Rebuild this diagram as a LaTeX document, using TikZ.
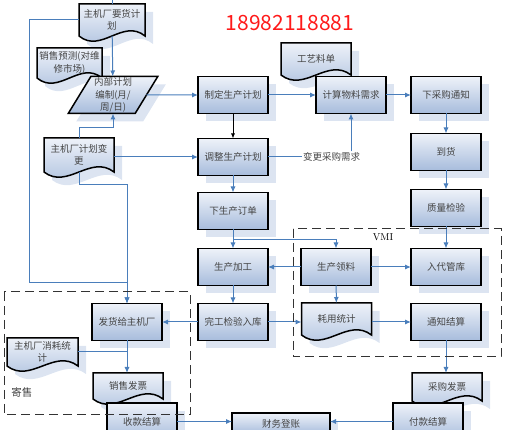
\documentclass[tikz,border=0pt]{standalone}
\usepackage{fontspec}
\newfontfamily\cjk{Noto Sans CJK SC}
\usetikzlibrary{arrows.meta,positioning,shapes.geometric,shadows}
\usepackage{xcolor}
\definecolor{ink}{HTML}{444444}
\definecolor{boxtop}{HTML}{EEF2F9}
\definecolor{boxbot}{HTML}{A7BCDC}
\definecolor{ghost}{HTML}{DCE4F1}
\definecolor{wire}{HTML}{4A7EBB}
\definecolor{hotred}{HTML}{FF1A1A}
\newcommand{\docwave}{18}
\tikzset{
  shadowed/.style={drop shadow={shadow xshift=8pt,shadow yshift=-8pt,fill=ghost,opacity=1}},
  box/.style={draw=black,line width=1.5pt,top color=boxtop,bottom color=boxbot,shadowed,minimum width=70,minimum height=37,inner sep=1pt,outer sep=0pt,align=center,text=ink,font=\cjk\fontsize{9.5}{12.5}\selectfont},
  para/.style={box,trapezium,trapezium left angle=61,trapezium right angle=119,trapezium stretches=true,minimum width=90},
  docshape/.style={draw=black,line width=1.5pt,top color=boxtop,bottom color=boxbot,shadowed},
  doc/.style={inner sep=1pt,outer sep=0pt,align=center,text=ink,font=\cjk\fontsize{9.5}{12.5}\selectfont},
  note/.style={inner sep=1pt,text=ink,font=\cjk\fontsize{9.5}{12}\selectfont},
  link/.style={draw=wire,line width=1pt},
  arr/.style={link,-{Latex[length=6pt,width=5pt]}},
  arrk/.style={draw=black,line width=0.8pt,-{Latex[length=5pt,width=4pt]}},
  group/.style={draw=black!80,line width=1pt,dash pattern=on 9pt off 5pt}
}
\newcommand{\docnode}[5]{%
  \path[docshape,shift={(#2)}] (-#3/2,-#4/2) -- (#3/2,-#4/2) -- (#3/2,#4/2)
    .. controls (#3/6,#4/2-\docwave) and (-#3/6,#4/2+\docwave) .. (-#3/2,#4/2) -- cycle;
  \node[doc,minimum width=#3,minimum height=#4] (#1) at (#2) {#5};
}
\begin{document}
\begin{tikzpicture}[x=1pt,y=-1pt]
\useasboundingbox (0,0) rectangle (507,430);

% documents first, boxes lie over them
\docnode{req}{112,20}{66}{32}{主机厂要货计\\划}
\docnode{fcst}{69.5,63}{65}{30}{销售预测(对维\\修市场)}
\docnode{bom}{316,59}{70}{32}{工艺料单}
\docnode{chgplan}{79,155}{70}{34}{主机厂计划变\\更}
\docnode{usage}{336.5,319}{70}{32}{耗用统计}
\docnode{cons}{42.5,352}{71}{28}{主机厂消耗统\\计}
\docnode{sinv}{128,386}{70}{26}{销售发票}
\docnode{pinv}{447,387}{70}{28}{采购发票}

\node[text=hotred,font=\cjk\fontsize{21}{21}\selectfont] (tel) at (290,23) {18982118881};

% planning
\node[para] (plan0) at (113,95) {内部计划\\编制(月/\\周/日)};
\node[box] (plan) at (233,95) {制定生产计划};
\node[box,right=48pt of plan] (calc) {计算物料需求};
\node[box,right=25pt of calc] (purch) {下采购通知};
\node[box,below=25pt of plan] (adj) {调整生产计划};
\node[note,right=34pt of adj] (chg) {变更采购需求};
\node[box,below=17pt of adj] (order) {下生产订单};
\node[box,below=19pt of order] (proc) {生产加工};
\node[box,below=18pt of proc] (done) {完工检验入库};
\node[box,left=36pt of done] (ship) {发货给主机厂};

% purchasing column
\node[box,below=20pt of purch] (arrive) {到货};
\node[box,below=19pt of arrive] (qc) {质量检验};
\node[box,below=22pt of qc] (store) {入代管库};
\node[box,below=18pt of store] (settle) {通知结算};
\node[box,right=33pt of proc] (pick) {生产领料};

% settlement
\node[box] (collect) at (142,421.5) {收款结算};
\node[box,minimum width=98,minimum height=21] (books) at (281,423.5) {财务登账};
\node[box] (pay) at (428,421.5) {付款结算};

\node[font=\fontsize{10}{12}\selectfont] (vmi) at (383,237) {VMI};
\node[note,font=\cjk\fontsize{10.5}{12}\selectfont] (jishou) at (22,392) {寄售};

% connectors
\coordinate (feed) at (112,0);
\coordinate (rail) at (29,283);
\draw[link] (feed) -- (req);
\draw[arr] (req) -- (plan0);
\draw[arr] (req.west) -| (rail) -| (ship.north);
\draw[arr] (chgplan.north) -- ++(0,-10) -| (plan0.south);
\draw[arr] (chgplan.east |- adj.west) -- (adj.west);
\draw[arr] (chgplan.south) -- ++(0,13) -| (ship.north);
\draw[arr] (plan0) -- (plan);
\draw[arrk] (plan) -- (adj);
\draw[arr] (plan) -- (calc);
\draw[arr] (calc) -- (purch);
\draw[link] (adj) -- (chg);
\draw[arr] (chg.north -| calc.south) -- (calc.south);
\draw[arr] (purch) -- (arrive);
\draw[arr] (arrive) -- (qc);
\draw[arr] (qc) -- (store);
\draw[arr] (adj) -- (order);
\draw[arr] (order) -- (proc);
\draw[arr] (order.south) -- ++(0,10) -| (pick.north);
\draw[arr] (pick) -- (proc);
\draw[arr] (pick) -- (store);
\draw[arr] (pick) -- (usage);
\draw[arr] (proc) -- (done);
\draw[arr] (done) -- (ship);
\draw[arr] (done.east) -- (done.east -| usage.west);
\draw[arr] (settle.west -| usage.east) -- (settle.west);
\draw[arr] (settle.south) -- (settle.south |- pinv.north);
\draw[arr] (ship.south) -- (ship.south |- sinv.north);
\draw[link] (cons.east) -- (cons.east -| ship.south);
\draw[arr] (collect.east) -- (collect.east -| books.west);
\draw[arr] (pay.west) -- (pay.west -| books.east);

% groups
\draw[group] (293,229) rectangle (501,357);
\draw[group] (4,292) rectangle (190,415);
\end{tikzpicture}
\end{document}
